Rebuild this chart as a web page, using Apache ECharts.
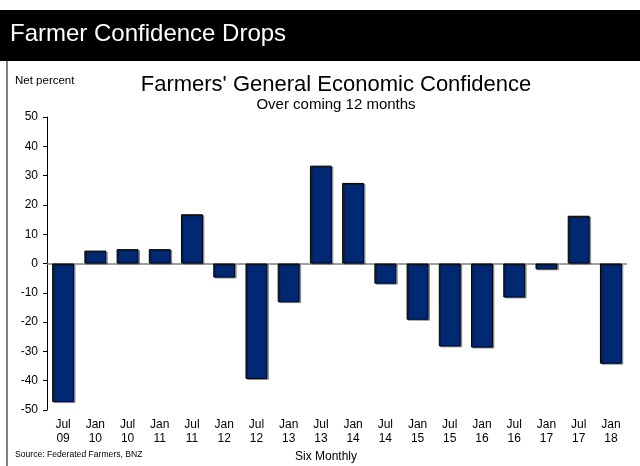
<!DOCTYPE html>
<html>
<head>
<meta charset="utf-8">
<script src="https://cdn.jsdelivr.net/npm/echarts@6/dist/echarts.min.js"></script>
<style>
  html, body { margin: 0; padding: 0; background: #fff; }
  #chart { width: 640px; height: 466px; }
</style>
</head>
<body>
<div id="chart"></div>
<script>
// six-monthly survey periods
const periods = ['Jul\n09', 'Jan\n10', 'Jul\n10', 'Jan\n11', 'Jul\n11', 'Jan\n12', 'Jul\n12', 'Jan\n13', 'Jul\n13',
  'Jan\n14', 'Jul\n14', 'Jan\n15', 'Jul\n15', 'Jan\n16', 'Jul\n16', 'Jan\n17', 'Jul\n17', 'Jan\n18'];
// net percent of farmers expecting better general economic conditions
const confidence = [-47.3, 4.4, 4.9, 4.9, 16.8, -4.8, -39.4, -13.2, 33.4,
  27.5, -6.9, -19.2, -28.3, -28.7, -11.6, -2.0, 16.3, -34.2];
const yTicks = { min: -50, max: 50, step: 10 };

const font = '"Liberation Sans", Arial, sans-serif';
const chart = echarts.init(document.getElementById('chart'));

function label(text, x, y, size, extra) {
  return Object.assign({
    text: text, left: x, top: y, padding: 0,
    textStyle: { color: '#000', fontSize: size, fontWeight: 'normal', fontFamily: font }
  }, extra || {});
}

chart.setOption({
  animation: false,
  textStyle: { fontFamily: font },
  graphic: [
    { type: 'rect', shape: { x: 0, y: 10, width: 640, height: 51 }, style: { fill: '#000' } },
    { type: 'line', shape: { x1: 7, y1: 61, x2: 7, y2: 466 }, style: { stroke: '#000', lineWidth: 1 } }
  ],
  title: [
    label('Farmer Confidence Drops', 10, 22, 24, { textStyle: { color: '#fff', fontSize: 24, fontWeight: 'normal', fontFamily: font } }),
    label("Farmers' General Economic Confidence", 336, 74, 22, { textAlign: 'center' }),
    label('Over coming 12 months', 336, 97, 15, { textAlign: 'center' }),
    label('Net percent', 15, 75, 11.5),
    label('Six Monthly', 326, 451, 12, { textAlign: 'center' }),
    label('Source: Federated Farmers, BNZ', 15, 450, 8.6)
  ],
  grid: { left: 47, right: 13, top: 117, bottom: 56, containLabel: false },
  xAxis: {
    type: 'category', data: periods, position: 'bottom',
    axisLine: { show: false }, axisTick: { show: false },
    axisLabel: { color: '#000', fontSize: 12, lineHeight: 14, margin: 8, interval: 0 }
  },
  yAxis: {
    type: 'value', min: yTicks.min, max: yTicks.max, interval: yTicks.step,
    splitLine: { show: false },
    axisLine: { show: true, lineStyle: { color: '#000' } },
    axisTick: { show: true, length: 4, lineStyle: { color: '#000' } },
    axisLabel: { color: '#000', fontSize: 12, margin: 9 }
  },
  series: [{
    type: 'bar',
    data: confidence,
    barCategoryGap: '32%',
    itemStyle: {
      color: '#002873', borderColor: '#000', borderWidth: 1,
      shadowColor: 'rgba(0,0,0,0.35)', shadowOffsetX: 1.5, shadowOffsetY: 1
    },
    markLine: {
      silent: true, symbol: 'none', z: 1,
      label: { show: false },
      lineStyle: { color: '#808080', width: 1.5, type: 'solid' },
      data: [{ yAxis: 0 }]
    }
  }]
});
</script>
</body>
</html>
